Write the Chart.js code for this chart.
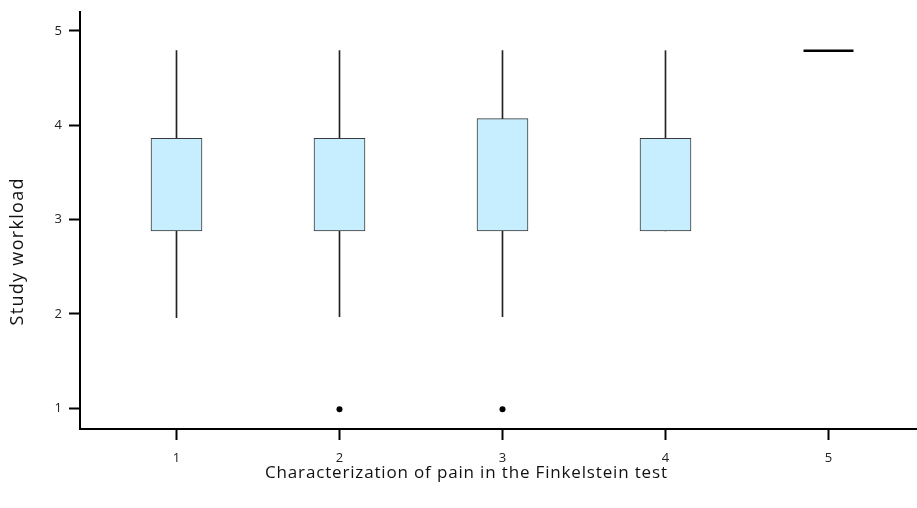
<!DOCTYPE html>
<html>
<head>
<meta charset="utf-8">
<script src="https://cdn.jsdelivr.net/npm/chart.js@4"></script>
<style>
  html, body { margin: 0; padding: 0; background: #fff; }
  #wrap { width: 917px; height: 508px; }
</style>
</head>
<body>
<div id="wrap"><canvas id="boxChart"></canvas></div>
<script>
// values
var categories   = [1, 2, 3, 4, 5];
var boxLow       = [2.88, 2.88, 2.88, 2.88, 4.79];
var boxHigh      = [3.86, 3.86, 4.07, 3.86, 4.79];
var whiskerLow   = [1.96, 1.97, 1.97, 2.88, 4.79];
var whiskerHigh  = [4.79, 4.79, 4.79, 4.79, 4.79];
var outlierX     = [2, 3];
var outlierY     = [0.99, 0.99];
var xTicks       = [1, 2, 3, 4, 5];
var yTicks       = [1, 2, 3, 4, 5];
var xTitle = 'Characterization of pain in the Finkelstein test';
var yTitle = 'Study workload';

var FONT = '"Open Sans", sans-serif';

// boxes with some height are drawn as bars, flat ones as a thick line
var boxData = [], flatData = [], whiskerData = [];
for (var i = 0; i < categories.length; i++) {
    if (boxHigh[i] > boxLow[i]) {
        boxData.push({x: categories[i], y: [boxLow[i], boxHigh[i]]});
    } else {
        flatData.push({x: categories[i], y: boxLow[i]});
    }
    if (whiskerHigh[i] > whiskerLow[i]) {
        whiskerData.push({x: categories[i], y: [whiskerLow[i], whiskerHigh[i]]});
    }
}
var outlierData = outlierX.map(function(x, i) { return {x: x, y: outlierY[i]}; });

// the original font is wider than Open Sans, so stretch a little with letter spacing
var drawSpaced = function(ctx, text, x, y, width) {
    ctx.letterSpacing = '0px';
    var w = ctx.measureText(text).width;
    var gap = Math.max(0, (width - w) / (text.length - 1));
    ctx.letterSpacing = gap + 'px';
    ctx.fillText(text, x + gap / 2, y);
};

var axisTitles = {
    id: 'axisTitles',
    afterDraw: function(chart) {
        var ctx = chart.ctx;
        ctx.save();
        ctx.fillStyle = '#111';
        ctx.textAlign = 'center';
        ctx.textBaseline = 'middle';
        ctx.font = '17px ' + FONT;
        drawSpaced(ctx, xTitle, 466, 473, 402);
        ctx.font = '18px ' + FONT;
        ctx.translate(18, 252);
        ctx.rotate(-Math.PI / 2);
        drawSpaced(ctx, yTitle, 0, 0, 147);
        ctx.restore();
    }
};

new Chart(document.getElementById('boxChart'), {
    type: 'bar',
    data: {
        datasets: [{
            label: 'whiskers',
            data: whiskerData,
            backgroundColor: '#222',
            barThickness: 1,
            grouped: false,
            order: 3
        }, {
            label: 'boxes',
            data: boxData,
            backgroundColor: 'rgb(199,238,255)',
            borderColor: '#3a3a3a',
            borderWidth: 1,
            borderSkipped: false,
            barThickness: 51,
            grouped: false,
            order: 2
        }, {
            type: 'scatter',
            label: 'flat',
            data: flatData,
            pointStyle: 'line',
            pointRadius: 25,
            borderColor: '#000',
            borderWidth: 2.5,
            order: 1
        }, {
            type: 'scatter',
            label: 'outliers',
            data: outlierData,
            pointRadius: 3,
            backgroundColor: '#000',
            borderColor: '#000',
            borderWidth: 0,
            order: 1
        }]
    },
    options: {
        responsive: true,
        maintainAspectRatio: false,
        animation: false,
        layout: { autoPadding: false, padding: { top: 12, right: 0, bottom: 0, left: 0 } },
        plugins: { legend: { display: false }, tooltip: { enabled: false } },
        scales: {
            x: {
                type: 'linear',
                offset: false,
                min: 0.408,
                max: 5.543,
                afterBuildTicks: function(scale) {
                    scale.ticks = xTicks.map(function(v) { return {value: v}; });
                },
                afterFit: function(scale) {
                    scale.height = 79;
                    scale.paddingLeft = 0;
                    scale.paddingRight = 0;
                },
                grid: { offset: false, drawOnChartArea: false, drawTicks: true, tickLength: 11, tickColor: '#000', tickWidth: 2 },
                border: { display: true, color: '#000', width: 2 },
                ticks: { color: '#222', font: { family: FONT, size: 13 }, padding: 10, maxRotation: 0 }
            },
            y: {
                min: 0.78,
                max: 5.2,
                afterBuildTicks: function(scale) {
                    scale.ticks = yTicks.map(function(v) { return {value: v}; });
                },
                afterFit: function(scale) {
                    scale.width = 80;
                    scale.paddingTop = 0;
                    scale.paddingBottom = 0;
                },
                grid: { drawOnChartArea: false, drawTicks: true, tickLength: 11, tickColor: '#000', tickWidth: 2 },
                border: { display: true, color: '#000', width: 2 },
                ticks: { color: '#222', font: { family: FONT, size: 13 }, padding: 7 }
            }
        }
    },
    plugins: [axisTitles]
});
</script>
</body>
</html>
